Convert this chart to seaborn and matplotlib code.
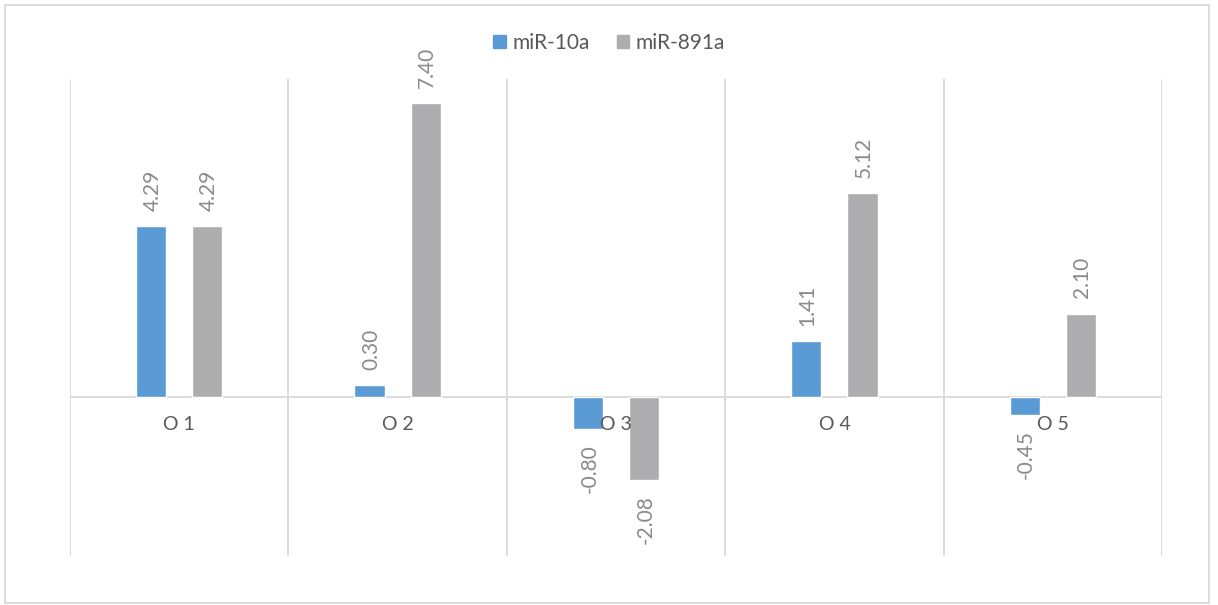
import matplotlib
matplotlib.use("Agg")
import matplotlib.pyplot as plt
from matplotlib.patches import Rectangle
import pandas as pd
import seaborn as sns

categories = ["O 1", "O 2", "O 3", "O 4", "O 5"]
series_names = ["miR-10a", "miR-891a"]
mir10a = [4.29, 0.30, -0.80, 1.41, -0.45]
mir891a = [4.29, 7.40, -2.08, 5.12, 2.10]
colors = ["#5B9BD5", "#ADADB0"]

df = pd.DataFrame({
    "group": categories * 2,
    "series": [series_names[0]] * len(categories) + [series_names[1]] * len(categories),
    "value": mir10a + mir891a,
})

sns.set_theme(style="white")
plt.rcParams["font.family"] = ["Lato", "DejaVu Sans"]

W, H, DPI = 1218, 605, 100
fig = plt.figure(figsize=(W / DPI, H / DPI), dpi=DPI)
ax = fig.add_axes([70 / W, 1 - 556 / H, (1162 - 70) / W, (556 - 79) / H])

sns.barplot(data=df, x="group", y="value", hue="series", palette=colors,
            saturation=1, width=0.514, gap=0.46, ax=ax, legend=False, zorder=3,
            order=categories, hue_order=series_names)

ax.set_xlim(-0.5, len(categories) - 0.5)
ax.set_ylim(-4, 8)
for s in ax.spines.values():
    s.set_visible(False)
ax.set_xticks([])
ax.set_yticks([])
ax.set_xlabel("")
ax.set_ylabel("")

grid_c = "#D9D9D9"
for i in range(len(categories) + 1):
    ax.axvline(i - 0.5, color=grid_c, lw=1.3, zorder=1)
ax.axhline(0, color=grid_c, lw=1.3, zorder=2)

# value labels, rotated like the bars
label_c = "#8A8A8A"
for container in ax.containers:
    for bar in container:
        val = bar.get_height()
        x = bar.get_x() + bar.get_width() / 2
        if val >= 0:
            ax.annotate(f"{val:.2f}", (x, val), xytext=(1, 11), textcoords="offset points",
                        rotation=90, ha="center", va="bottom", color=label_c,
                        fontsize=15, zorder=5)
        else:
            ax.annotate(f"{val:.2f}", (x, val), xytext=(1, -11), textcoords="offset points",
                        rotation=90, ha="center", va="top", color=label_c,
                        fontsize=15, zorder=5)

# category names under the zero line
for i, c in enumerate(categories):
    ax.annotate(c, (i, 0), xytext=(0, -20), textcoords="offset points",
                ha="center", va="center", color="#595959", fontsize=14, zorder=6)

# legend across the top
handles = [Rectangle((0, 0), 1, 1, color=c) for c in colors]
fig.legend(handles, series_names, loc="center", bbox_to_anchor=(0.5, 1 - 43 / H),
           ncol=2, frameon=False, fontsize=15, handlelength=0.6, handleheight=0.6,
           handletextpad=0.3, columnspacing=1.3, labelcolor="#595959")

# chart border
fig.patches.append(Rectangle((5 / W, 1 - 603 / H), (1209 - 5) / W, (603 - 5) / H,
                             transform=fig.transFigure, fill=False,
                             edgecolor="#D9D9D9", lw=1.3))

fig.savefig("out.png", dpi=DPI)
